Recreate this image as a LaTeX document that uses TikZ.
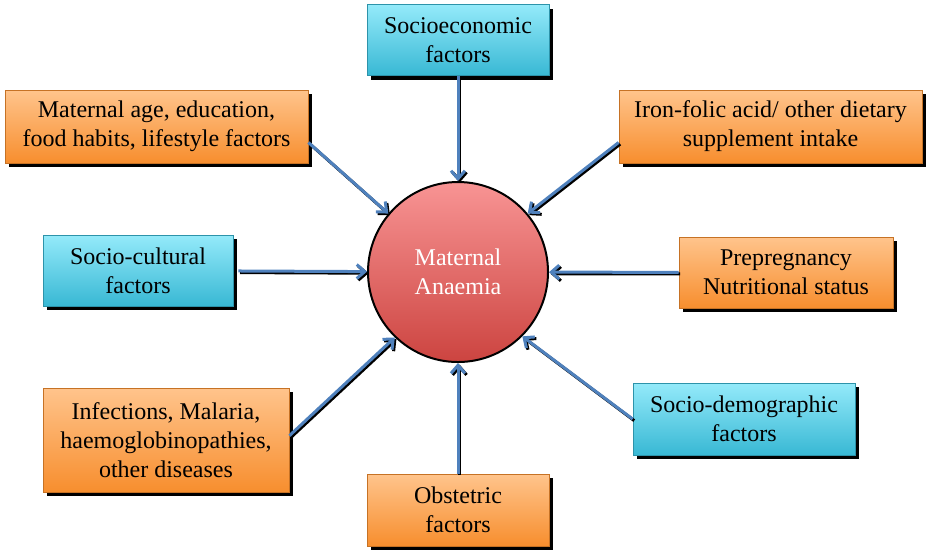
\documentclass[tikz,border=0pt]{standalone}
\usepackage{fontspec}
\setmainfont{Liberation Serif}
\newfontfamily\timesfont{Liberation Serif}
\usetikzlibrary{arrows.meta,shadows}
\definecolor{socTop}{HTML}{94EAFA}
\definecolor{socBot}{HTML}{38B8D4}
\definecolor{matTop}{HTML}{FFC48C}
\definecolor{matBot}{HTML}{F78E2E}
\definecolor{anaTop}{HTML}{F89494}
\definecolor{anaBot}{HTML}{CC4440}
\definecolor{arrblue}{HTML}{4F81BD}
\tikzset{
  factor/.style={rectangle, draw=#1Bot!80!black, line width=0.4pt,
                 top color=#1Top, bottom color=#1Bot, align=center, inner sep=0pt,
                 font=\timesfont\fontsize{12}{14.5}\selectfont,
                 drop shadow={shadow xshift=2pt, shadow yshift=-2pt, fill=black, opacity=1}},
  arr/.style={draw=arrblue, line width=1.5pt, -{Straight Barb[length=4pt,width=7pt]},
              preaction={draw=black, line width=1.5pt, -{Straight Barb[length=4pt,width=7pt]},
                         transform canvas={shift={(0.8pt,-0.8pt)}}}},
}
\begin{document}
\begin{tikzpicture}[x=0.5pt,y=-0.5pt]
  \useasboundingbox (0,0) rectangle (929,554);
  % centre
  \node[circle, minimum size=90pt, inner sep=0pt, draw=black, line width=1pt,
        top color=anaTop, bottom color=anaBot, text=white, align=center,
        font=\timesfont\fontsize{12}{14.5}\selectfont] (anaemia) at (458,272) {Maternal\\Anaemia};
  % factors
  \node[factor=soc, minimum width=91pt, minimum height=35.5pt] (socioeco) at (458,40)
    {Socioeconomic\\factors};
  \node[factor=mat, minimum width=151.5pt, minimum height=36.5pt] (matage) at (156.5,126.5)
    {Maternal age, education,\\food habits, lifestyle factors};
  \node[factor=mat, minimum width=151.5pt, minimum height=36.5pt] (iron) at (770.5,126.5)
    {Iron-folic acid/ other dietary\\supplement intake};
  \node[factor=soc, minimum width=95pt, minimum height=35.5pt] (cultural) at (138,270.5)
    {Socio-cultural\\factors};
  \node[factor=mat, minimum width=107pt, minimum height=35.5pt] (prepreg) at (786,272.5)
    {Prepregnancy\\Nutritional status};
  \node[factor=mat, minimum width=123pt, minimum height=52pt] (infect) at (166,440)
    {Infections, Malaria,\\haemoglobinopathies,\\other diseases};
  \node[factor=soc, minimum width=111pt, minimum height=36pt] (demog) at (744,419)
    {Socio-demographic\\factors};
  \node[factor=mat, minimum width=91pt, minimum height=36pt] (obst) at (458,510)
    {Obstetric\\factors};
  % arrows
  \draw[arr] (socioeco) -- (anaemia);
  \draw[arr] (matage.-6) -- (anaemia.140);
  \draw[arr] (iron.186) -- (anaemia.40);
  \draw[arr, shorten <=2.5pt] (cultural) -- (anaemia);
  \draw[arr] (prepreg) -- (anaemia);
  \draw[arr] (infect.2) -- (anaemia.226);
  \draw[arr] (demog.west) -- (anaemia.-45);
  \draw[arr] (obst) -- (anaemia);
\end{tikzpicture}
\end{document}
